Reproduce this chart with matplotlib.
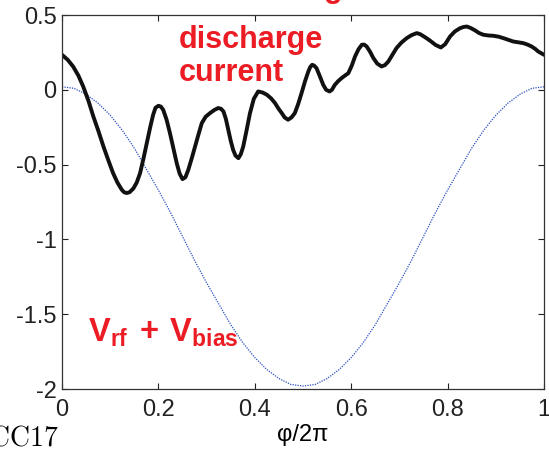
import matplotlib
matplotlib.use('Agg')
import matplotlib.pyplot as plt

# discharge current (black, thick)
phi_i = [0.0, 0.012, 0.023, 0.034, 0.044, 0.055, 0.065, 0.076, 0.086, 0.096,
         0.106, 0.115, 0.124, 0.129, 0.134, 0.14, 0.148, 0.155, 0.162, 0.169,
         0.176, 0.183, 0.189, 0.194, 0.2, 0.205, 0.21, 0.217, 0.224, 0.231,
         0.238, 0.244, 0.25, 0.256, 0.262, 0.269, 0.276, 0.283, 0.29, 0.298,
         0.307, 0.316, 0.324, 0.33, 0.335, 0.34, 0.345, 0.35, 0.355, 0.36,
         0.366, 0.371, 0.376, 0.383, 0.39, 0.398, 0.407, 0.416, 0.425, 0.434,
         0.442, 0.449, 0.456, 0.462, 0.469, 0.476, 0.483, 0.49, 0.497, 0.504,
         0.511, 0.515, 0.519, 0.523, 0.528, 0.535, 0.542, 0.548, 0.555, 0.56,
         0.566, 0.573, 0.58, 0.587, 0.594, 0.601, 0.608, 0.615, 0.622, 0.627,
         0.632, 0.639, 0.646, 0.654, 0.663, 0.67, 0.677, 0.685, 0.694, 0.704,
         0.715, 0.725, 0.736, 0.743, 0.753, 0.763, 0.775, 0.786, 0.795, 0.805,
         0.815, 0.826, 0.833, 0.84, 0.848, 0.857, 0.865, 0.874, 0.885, 0.895,
         0.906, 0.916, 0.926, 0.936, 0.947, 0.957, 0.966, 0.974, 0.982, 0.988,
         0.994, 1.0]
current = [0.234, 0.2, 0.156, 0.095, 0.022, -0.075, -0.178, -0.28, -0.379, -0.47,
           -0.557, -0.62, -0.668, -0.685, -0.69, -0.685, -0.66, -0.62, -0.557, -0.46,
           -0.356, -0.25, -0.168, -0.12, -0.107, -0.112, -0.134, -0.2, -0.29, -0.39,
           -0.49, -0.56, -0.597, -0.585, -0.535, -0.46, -0.379, -0.3, -0.223, -0.18,
           -0.156, -0.135, -0.122, -0.127, -0.145, -0.195, -0.267, -0.34, -0.401, -0.44,
           -0.457, -0.43, -0.379, -0.27, -0.156, -0.06, -0.011, -0.018, -0.033, -0.058,
           -0.089, -0.125, -0.156, -0.185, -0.2, -0.185, -0.156, -0.095, -0.022, 0.055,
           0.122, 0.152, 0.167, 0.162, 0.145, 0.09, 0.033, 0.0, -0.011, 0.0,
           0.033, 0.058, 0.078, 0.095, 0.111, 0.16, 0.223, 0.27, 0.301, 0.302,
           0.29, 0.255, 0.212, 0.175, 0.156, 0.165, 0.189, 0.232, 0.279, 0.315,
           0.345, 0.365, 0.379, 0.372, 0.352, 0.33, 0.3, 0.283, 0.305, 0.356,
           0.39, 0.412, 0.42, 0.423, 0.413, 0.397, 0.38, 0.368, 0.363, 0.361,
           0.355, 0.345, 0.334, 0.323, 0.317, 0.312, 0.302, 0.29, 0.273, 0.256,
           0.245, 0.234]

# Vrf + Vbias (blue, dotted)
phi_v = [0.0, 0.025, 0.05, 0.075, 0.1, 0.125, 0.15, 0.175, 0.2, 0.225,
         0.25, 0.275, 0.3, 0.325, 0.35, 0.375, 0.4, 0.425, 0.45, 0.475,
         0.5, 0.525, 0.55, 0.575, 0.6, 0.625, 0.65, 0.675, 0.7, 0.725,
         0.75, 0.775, 0.8, 0.825, 0.85, 0.875, 0.9, 0.925, 0.95, 0.975, 1.0]
voltage = [0.02, 0.01, -0.03, -0.09, -0.17, -0.27, -0.39, -0.53, -0.67, -0.82,
           -0.98, -1.14, -1.29, -1.43, -1.57, -1.69, -1.79, -1.87, -1.93, -1.97,
           -1.98, -1.97, -1.93, -1.87, -1.79, -1.69, -1.57, -1.43, -1.29, -1.14,
           -0.98, -0.82, -0.67, -0.53, -0.39, -0.27, -0.17, -0.09, -0.03, 0.01, 0.02]

xticks = [0, 0.2, 0.4, 0.6, 0.8, 1]
xticklabels = ['0', '0.2', '0.4', '0.6', '0.8', '1']
yticks = [-2, -1.5, -1, -0.5, 0, 0.5]
yticklabels = ['-2', '-1.5', '-1', '-0.5', '0', '0.5']

red = '#ec1c24'
plt.rcParams['font.family'] = ['Liberation Sans', 'DejaVu Sans']
plt.rcParams['mathtext.fontset'] = 'custom'
plt.rcParams['mathtext.rm'] = 'Liberation Sans'
plt.rcParams['mathtext.bf'] = 'Liberation Sans:bold'

fig = plt.figure(figsize=(5.49, 4.49), dpi=100)
ax = fig.add_axes([62 / 549, 1 - 389 / 449, 482 / 549, 374 / 449])

ax.plot(phi_v, voltage, linestyle=(0, (1, 1)), color='#2a4fc0', linewidth=0.9)
ax.plot(phi_i, current, '-', color='#111111', linewidth=2.8,
        solid_capstyle='round', solid_joinstyle='round')

ax.set_xlim(0, 1)
ax.set_ylim(-2, 0.5)
ax.set_xticks(xticks)
ax.set_xticklabels(xticklabels)
ax.set_yticks(yticks)
ax.set_yticklabels(yticklabels)
ax.tick_params(direction='in', top=True, right=True, length=4, width=0.8,
               labelsize=17, colors='#222222')
ax.tick_params(axis='x', pad=7)
ax.tick_params(axis='y', pad=4)
for s in ax.spines.values():
    s.set_linewidth(0.9)
    s.set_color('#333333')

ax.set_xlabel('φ/2π', fontsize=17, labelpad=2)

# Legende
ax.text(0.243, 0.281, 'discharge', color=red, fontsize=22, fontweight='bold', va='baseline')
ax.text(0.243, 0.06, 'current', color=red, fontsize=22, fontweight='bold', va='baseline')
ax.text(0.054, -1.68, r'$\mathbf{V_{rf}\,+\,V_{bias}}$', color=red, fontsize=23.5,
        va='baseline')

fig.text(58 / 549, 1 - 446 / 449, r'$\mathrm{CC17}$', math_fontfamily='cm',
         fontsize=20, ha='right', va='baseline')
fig.text(333 / 549, 1 + 3 / 449, 'g', color=red, fontsize=22, fontweight='bold',
         ha='center', va='baseline')

fig.savefig('out.png', dpi=100)
